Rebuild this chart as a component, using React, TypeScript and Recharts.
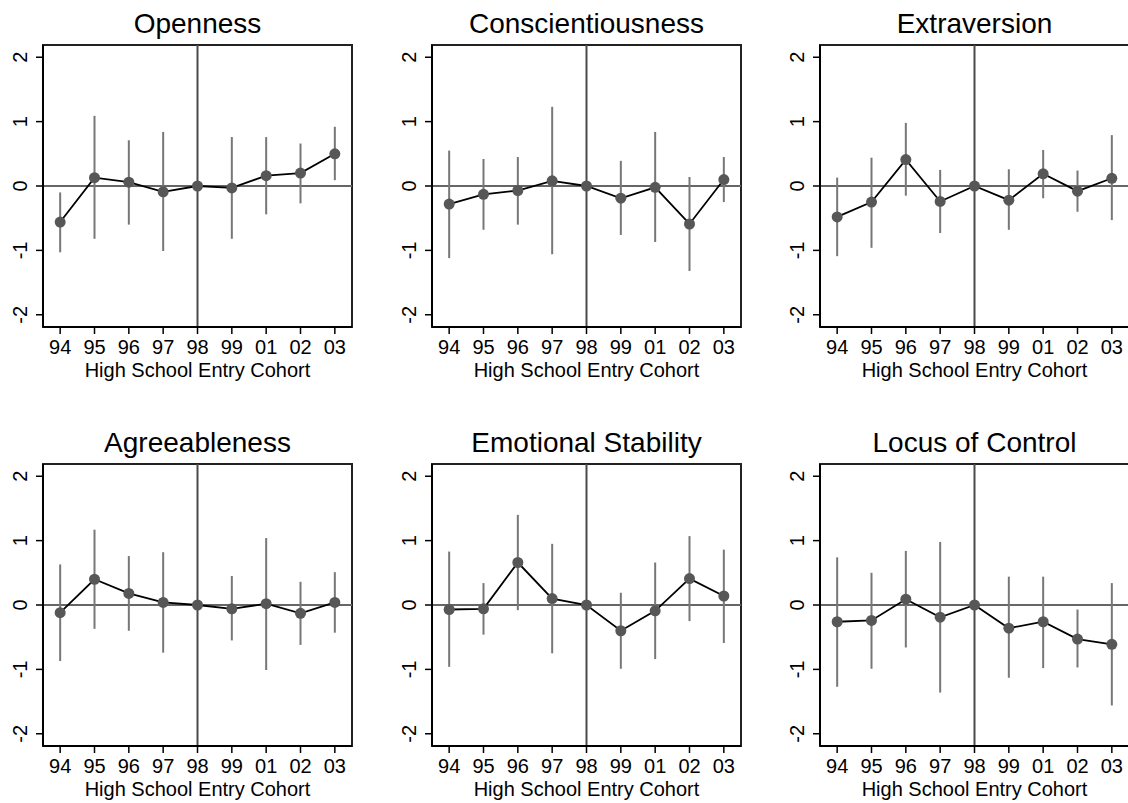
import React from "react";
import {
  ComposedChart,
  Line,
  XAxis,
  YAxis,
  ReferenceLine,
  ReferenceArea,
  ErrorBar,
} from "recharts";

const cohorts = ["94", "95", "96", "97", "98", "99", "01", "02", "03"];
const yTicks = [-2, -1, 0, 1, 2];

const titles = [
  "Openness",
  "Conscientiousness",
  "Extraversion",
  "Agreeableness",
  "Emotional Stability",
  "Locus of Control",
];

const opennessEst = [-0.56, 0.13, 0.06, -0.09, 0, -0.03, 0.16, 0.2, 0.5];
const opennessLo = [-1.03, -0.82, -0.6, -1.01, 0, -0.82, -0.44, -0.27, 0.09];
const opennessHi = [-0.1, 1.09, 0.71, 0.84, 0, 0.76, 0.76, 0.66, 0.92];

const conscEst = [-0.28, -0.13, -0.07, 0.08, 0, -0.19, -0.02, -0.59, 0.1];
const conscLo = [-1.12, -0.68, -0.6, -1.06, 0, -0.76, -0.87, -1.32, -0.25];
const conscHi = [0.55, 0.42, 0.45, 1.23, 0, 0.39, 0.84, 0.14, 0.45];

const extraEst = [-0.48, -0.25, 0.41, -0.24, 0, -0.22, 0.19, -0.08, 0.12];
const extraLo = [-1.09, -0.96, -0.15, -0.73, 0, -0.68, -0.19, -0.4, -0.53];
const extraHi = [0.13, 0.44, 0.98, 0.25, 0, 0.26, 0.56, 0.24, 0.79];

const agreeEst = [-0.12, 0.4, 0.18, 0.04, 0, -0.06, 0.02, -0.13, 0.04];
const agreeLo = [-0.87, -0.37, -0.4, -0.74, 0, -0.55, -1.01, -0.62, -0.43];
const agreeHi = [0.63, 1.17, 0.76, 0.82, 0, 0.45, 1.04, 0.36, 0.51];

const emoEst = [-0.07, -0.06, 0.66, 0.1, 0, -0.4, -0.09, 0.41, 0.14];
const emoLo = [-0.96, -0.46, -0.08, -0.75, 0, -0.99, -0.84, -0.25, -0.59];
const emoHi = [0.83, 0.34, 1.4, 0.95, 0, 0.19, 0.66, 1.07, 0.86];

const locusEst = [-0.26, -0.24, 0.09, -0.19, 0, -0.36, -0.26, -0.53, -0.61];
const locusLo = [-1.27, -0.99, -0.66, -1.36, 0, -1.13, -0.98, -0.97, -1.56];
const locusHi = [0.74, 0.5, 0.84, 0.98, 0, 0.44, 0.44, -0.07, 0.34];

const series = [
  [opennessEst, opennessLo, opennessHi],
  [conscEst, conscLo, conscHi],
  [extraEst, extraLo, extraHi],
  [agreeEst, agreeLo, agreeHi],
  [emoEst, emoLo, emoHi],
  [locusEst, locusLo, locusHi],
];

const buildData = (est: number[], lo: number[], hi: number[]) =>
  cohorts.map((c, i) => ({
    i,
    label: c,
    est: est[i],
    err: [est[i] - lo[i], hi[i] - est[i]],
  }));

const FONT = "'Liberation Sans', Arial, Helvetica, sans-serif";
const PLOT_W = 309;
const PLOT_H = 282;
const Y_W = 50;
const M_TOP = 45;
const M_RIGHT = 30;
const X_H = 55;
const Y_DOMAIN: [number, number] = [-2.19, 2.19];

const colLefts = [43, 432, 820];
const rowTops = [45, 464];

const YTick = (props: any) => {
  const { x, y, payload } = props;
  return (
    <g>
      <text
        x={x}
        y={y}
        transform={`rotate(-90 ${x} ${y})`}
        textAnchor="middle"
        fontSize={20}
        fontFamily={FONT}
        fill="#000"
      >
        {payload.value}
      </text>
    </g>
  );
};

const Panel = ({ idx }: { idx: number }) => {
  const [est, lo, hi] = series[idx];
  const data = buildData(est, lo, hi);
  const col = idx % 3;
  const row = Math.floor(idx / 3);
  const left = colLefts[col] - Y_W;
  const top = rowTops[row] - M_TOP;
  return (
    <div style={{ position: "absolute", left, top }}>
      <ComposedChart
        width={Y_W + PLOT_W + M_RIGHT}
        height={M_TOP + PLOT_H + X_H}
        data={data}
        margin={{ top: M_TOP, right: M_RIGHT, bottom: 0, left: 0 }}
      >
        <XAxis
          dataKey="i"
          type="number"
          domain={[-0.5, 8.5]}
          ticks={[0, 1, 2, 3, 4, 5, 6, 7, 8]}
          tickFormatter={(v: number) => cohorts[v]}
          interval={0}
          height={X_H}
          tickSize={7}
          tickMargin={6}
          axisLine={{ stroke: "#000", strokeWidth: 2 }}
          tickLine={{ stroke: "#000", strokeWidth: 1.5 }}
          tick={{ fontSize: 20, fontFamily: FONT, fill: "#000" }}
          label={{
            value: "High School Entry Cohort",
            position: "insideBottom",
            offset: 5,
            fontSize: 20,
            fontFamily: FONT,
            fill: "#000",
          }}
        />
        <YAxis
          type="number"
          domain={Y_DOMAIN}
          ticks={yTicks}
          interval={0}
          width={Y_W}
          tickSize={7}
          tickMargin={9}
          axisLine={{ stroke: "#000", strokeWidth: 2 }}
          tickLine={{ stroke: "#000", strokeWidth: 1.5 }}
          tick={YTick}
          allowDataOverflow
        />
        <ReferenceArea
          x1={-0.5}
          x2={8.5}
          y1={Y_DOMAIN[0]}
          y2={Y_DOMAIN[1]}
          fill="none"
          fillOpacity={0}
          stroke="#222"
          strokeWidth={2}
          label={{
            value: titles[idx],
            position: "top",
            offset: 12,
            fontSize: 28,
            fontFamily: FONT,
            fill: "#000",
          }}
        />
        <ReferenceLine y={0} stroke="#666" strokeWidth={2} />
        <ReferenceLine x={4} stroke="#4a4a4a" strokeWidth={2} />
        <Line
          dataKey="est"
          type="linear"
          stroke="#000"
          strokeWidth={1.8}
          isAnimationActive={false}
          dot={{ r: 5.5, fill: "#575757", stroke: "#575757", strokeWidth: 0 }}
          activeDot={false}
        >
          <ErrorBar
            dataKey="err"
            direction="y"
            width={0}
            stroke="#777"
            strokeWidth={2}
            isAnimationActive={false}
          />
        </Line>
      </ComposedChart>
    </div>
  );
};

export default function App() {
  return (
    <div
      style={{
        position: "absolute",
        left: 0,
        top: 0,
        width: 1128,
        height: 803,
        overflow: "hidden",
        background: "#fff",
        fontFamily: FONT,
      }}
    >
      {titles.map((_, idx) => (
        <Panel key={idx} idx={idx} />
      ))}
    </div>
  );
}
